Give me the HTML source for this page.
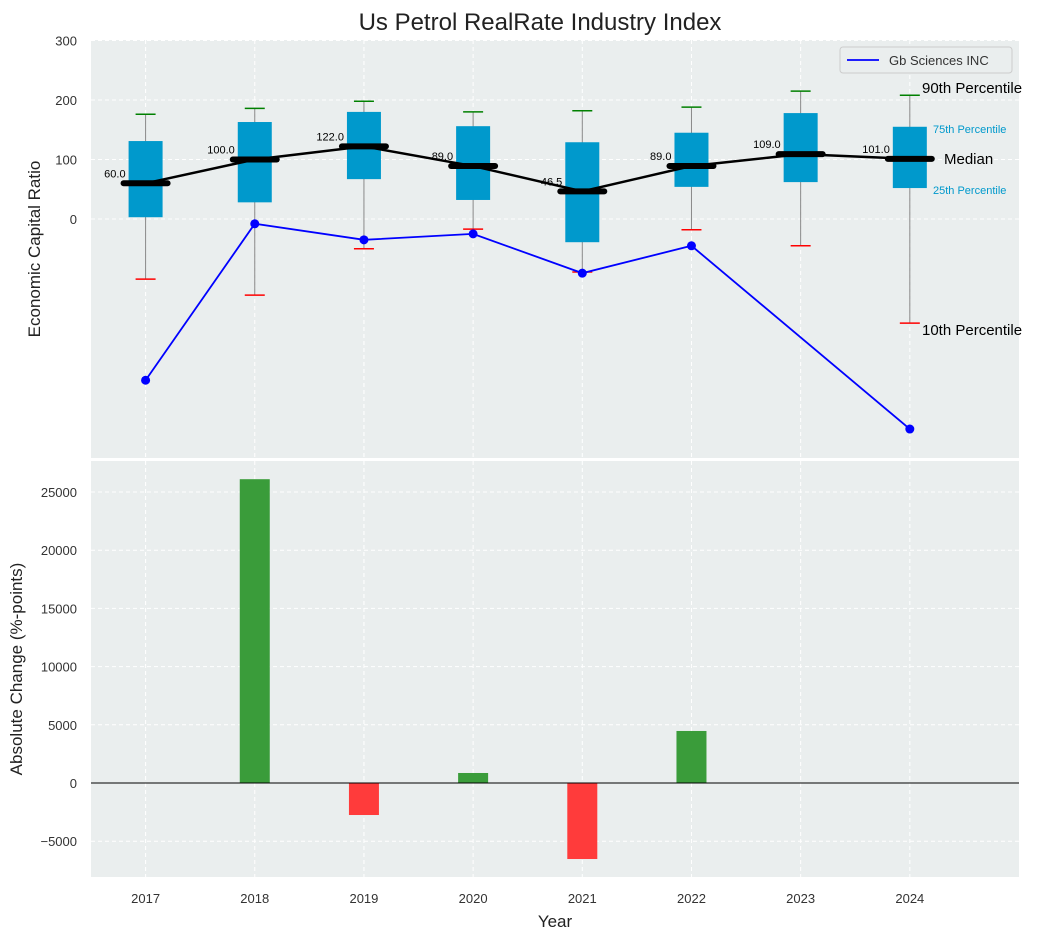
<!DOCTYPE html>
<html><head><meta charset="utf-8">
<style>
body{margin:0;background:#fff;font-family:"Liberation Sans",sans-serif;}
svg text{font-family:"Liberation Sans",sans-serif;}
</style></head>
<body>
<svg id="c" width="1043" height="940" xmlns="http://www.w3.org/2000/svg"></svg>
<script>
const years=[2017,2018,2019,2020,2021,2022,2023,2024];
const q1=[3,28,67,32,-39,54,62,52];
const q3=[131,163,180,156,129,145,178,155];
const medians=[60,100,122,89,46.5,89,109,101];
const p90=[176,186,198,180,182,188,215,208];
const p10=[-101,-128,-50,-17,-89,-18,-45,-175];
const companyYears=[2017,2018,2019,2020,2021,2022,2024];
const companyVals=[-271,-8,-35,-25,-91,-45,-353];
const changeYears=[2018,2019,2020,2021,2022];
const changeVals=[26100,-2750,860,-6530,4470];
const topTicks=[0,100,200,300];
const botTicks=[-5000,0,5000,10000,15000,20000,25000];

const NS="http://www.w3.org/2000/svg";
const svg=document.getElementById('c');
function el(t,a,txt){const e=document.createElementNS(NS,t);for(const k in a)e.setAttribute(k,a[k]);if(txt!=null)e.textContent=txt;svg.appendChild(e);return e;}
const L=91,R=1019;
const X=v=>L+(v-2016.5)/(2025-2016.5)*(R-L);
const T0=40,T1=458,B0=461,B1=877;
const YT=v=>219-v*0.595;
const YB=v=>783-v*0.01164;

let e;
e=el('rect',{x:L,y:T0,width:R-L,height:T1-T0,fill:'#eaeeee'});


e=el('rect',{x:L,y:B0,width:R-L,height:B1-B0,fill:'#eaeeee'});



// grids
years.forEach(y=>{
  el('line',{x1:X(y),x2:X(y),y1:T0,y2:T1,stroke:'#fff','stroke-dasharray':'4,3','stroke-width':1});
  el('line',{x1:X(y),x2:X(y),y1:B0,y2:B1,stroke:'#fff','stroke-dasharray':'4,3','stroke-width':1});
  e=el('text',{x:X(y),y:903,'text-anchor':'middle','font-size':13,fill:'#333'},y);
  
  
});
topTicks.forEach(t=>{
  el('line',{x1:L,x2:R,y1:YT(t),y2:YT(t),stroke:'#fff','stroke-dasharray':'4,3'});
  e=el('text',{x:77,y:YT(t)+5,'text-anchor':'end','font-size':13,fill:'#333'},t);
  
  
});
botTicks.forEach(t=>{
  el('line',{x1:L,x2:R,y1:YB(t),y2:YB(t),stroke:'#fff','stroke-dasharray':'4,3'});
  e=el('text',{x:77,y:YB(t)+5,'text-anchor':'end','font-size':13,fill:'#333'},t<0?'\u2212'+(-t):t);
  
  
});

// boxes
const bw=34;
years.forEach((y,i)=>{
  const x=X(y);
  e=el('line',{x1:x,x2:x,y1:YT(p10[i]),y2:YT(p90[i]),stroke:'#888','stroke-width':1});
  
  
  e=el('rect',{x:x-bw/2,y:YT(q3[i]),width:bw,height:YT(q1[i])-YT(q3[i]),fill:'#0099cc'});
  
  
  el('line',{x1:x-10,x2:x+10,y1:YT(p90[i]),y2:YT(p90[i]),stroke:'green','stroke-width':1.5});
  el('line',{x1:x-10,x2:x+10,y1:YT(p10[i]),y2:YT(p10[i]),stroke:'red','stroke-width':1.5});
  e=el('line',{x1:x-22,x2:x+22,y1:YT(medians[i]),y2:YT(medians[i]),stroke:'#000','stroke-width':6,'stroke-linecap':'round'});
  
  
  e=el('text',{x:x-20,y:YT(medians[i])-6,'text-anchor':'end','font-size':11,fill:'#000'},medians[i].toFixed(1));
  
  
});
e=el('polyline',{points:years.map((y,i)=>X(y)+','+YT(medians[i])).join(' '),fill:'none',stroke:'#000','stroke-width':2.5});


e=el('polyline',{points:companyYears.map((y,i)=>X(y)+','+YT(companyVals[i])).join(' '),fill:'none',stroke:'blue','stroke-width':1.8});


companyYears.forEach((y,i)=>{
  e=el('circle',{cx:X(y),cy:YT(companyVals[i]),r:4.5,fill:'blue'});
  
  
});
// annotations
const lx=X(2024);
e=el('text',{x:922,y:YT(p90[7])-2,'font-size':15,fill:'#000'},'90th Percentile');

e=el('text',{x:933,y:YT(q3[7])+-18+24,'font-size':11,fill:'#0099cc'},'75th Percentile');

e=el('text',{x:944,y:YT(medians[7])+5,'font-size':15,fill:'#000'},'Median');

e=el('text',{x:933,y:YT(q1[7])+6,'font-size':11,fill:'#0099cc'},'25th Percentile');

e=el('text',{x:922,y:YT(p10[7])+12,'font-size':15,fill:'#000'},'10th Percentile');


// legend
e=el('rect',{x:840,y:47,width:172,height:26,fill:'#eaeeee',stroke:'#ccc',rx:3});

el('line',{x1:847,x2:879,y1:60,y2:60,stroke:'blue','stroke-width':1.8});
e=el('text',{x:889,y:65,'font-size':13,fill:'#333'},'Gb Sciences INC');


// bars
const barW=30;
changeYears.forEach((y,i)=>{
  const v=changeVals[i];
  const y0=YB(Math.max(v,0)),y1=YB(Math.min(v,0));
  e=el('rect',{x:X(y)-barW/2,y:y0,width:barW,height:y1-y0,fill:v>=0?'#3a9c3a':'#ff3b3b'});
  
  
});
el('line',{x1:L,x2:R,y1:YB(0),y2:YB(0),stroke:'#000','stroke-width':1});

// titles
e=el('text',{x:540,y:30,'text-anchor':'middle','font-size':24,fill:'#222'},'Us Petrol RealRate Industry Index');

e=el('text',{x:0,y:0,'text-anchor':'middle','font-size':17,fill:'#222',transform:'translate(40,249) rotate(-90)'},'Economic Capital Ratio');

e=el('text',{x:0,y:0,'text-anchor':'middle','font-size':17,fill:'#222',transform:'translate(22,669) rotate(-90)'},'Absolute Change (%-points)');

e=el('text',{x:555,y:927,'text-anchor':'middle','font-size':17,fill:'#222'},'Year');

</script>
</body></html>
